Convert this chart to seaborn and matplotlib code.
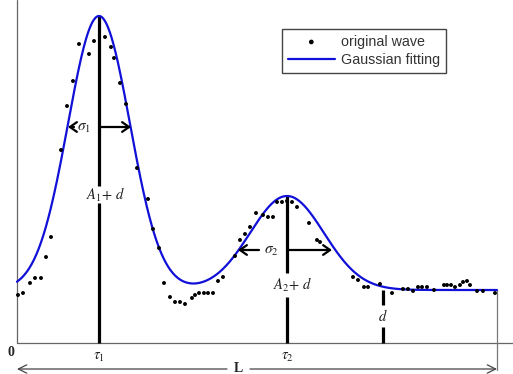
import numpy as np
import pandas as pd
import matplotlib
matplotlib.use("Agg")
import matplotlib.pyplot as plt
import seaborn as sns

# ---- data (x: 0..L, y: amplitude above the time axis) ----
wave_x = [1, 6, 13, 18, 24, 29, 34, 44, 50, 56, 62, 72, 77, 88, 94, 97, 103, 109,
          120, 131, 136, 142, 147, 153, 158, 163, 168, 175, 178, 182, 187, 191, 196,
          201, 206, 218, 223, 228, 233, 239, 246, 251, 256, 260, 265, 270, 275, 280,
          292, 300, 303, 336, 341, 347, 351, 363, 375, 386, 391, 396, 401, 405, 410,
          417, 427, 430, 434, 438, 443, 446, 450, 453, 460, 466, 478]
wave_y = [48, 50, 60, 65, 65, 86, 106, 193, 237, 262, 299, 289, 302, 306, 296, 285,
          260, 239, 175, 144, 114, 95, 60, 46, 41, 41, 39, 45, 48, 50, 50, 50, 50,
          62, 66, 87, 103, 109, 116, 130, 128, 126, 126, 141, 141, 142, 141, 136,
          120, 103, 101, 66, 63, 56, 56, 59, 50, 54, 54, 52, 56, 56, 56, 53, 58, 58,
          58, 56, 58, 61, 62, 58, 52, 52, 50]

# Gaussian fitting parameters
A1, tau1, sigma1 = 274, 82, 31
A2, tau2, sigma2 = 94, 270, 37
d = 53
L = 480

fit_x = np.linspace(0, L, 600)
fit_y = (A1 * np.exp(-(fit_x - tau1) ** 2 / (2 * sigma1 ** 2))
         + A2 * np.exp(-(fit_x - tau2) ** 2 / (2 * sigma2 ** 2)) + d)

sns.set_style("white")
plt.rcParams["mathtext.fontset"] = "stix"

fig = plt.figure(figsize=(5.13, 3.74), dpi=100)
ax = fig.add_axes([0, 0, 1, 1])
ax.set_xlim(-17, 496)
ax.set_ylim(-31, 343)
ax.axis("off")

waves = pd.DataFrame({"x": wave_x, "y": wave_y})
fits = pd.DataFrame({"x": fit_x, "y": fit_y})

# axes lines
ax.plot([0, 0], [0, 343], color="#666666", lw=0.9, zorder=1)
ax.plot([0, 496], [0, 0], color="#666666", lw=0.9, zorder=1)
ax.plot([L, L], [d, -27], color="#777777", lw=0.9, zorder=1)

# vertical black markers
blk = dict(color="black", lw=2.3, solid_capstyle="butt", zorder=2)
pk1 = A1 + d
pk2 = fit_y[np.argmin(np.abs(fit_x - tau2))]
ax.plot([tau1, tau1], [pk1, 157], **blk)
ax.plot([tau1, tau1], [140, 0], **blk)
ax.plot([tau2, tau2], [pk2, 70], **blk)
ax.plot([tau2, tau2], [46, 0], **blk)
ax.plot([366, 366], [d, 38], **blk)
ax.plot([366, 366], [16, 0], **blk)

sns.lineplot(data=fits, x="x", y="y", color="#1010d8", lw=1.6, ax=ax, zorder=3,
             label="Gaussian fitting", legend=False)
sns.scatterplot(data=waves, x="x", y="y", color="black", s=8, marker="o",
                edgecolor="none", ax=ax, zorder=4, label="original wave", legend=False)

# sigma arrows
arr = dict(arrowstyle="->,head_length=0.5,head_width=0.35", color="black", lw=1.6,
           shrinkA=0, shrinkB=0)
ax.annotate("", xy=(114, 216), xytext=(tau1, 216), arrowprops=arr, zorder=5)
ax.annotate("", xy=(51, 216), xytext=(57, 216), arrowprops=arr, zorder=5)
ax.text(67, 216, r"$\sigma_1$", fontsize=11, ha="center", va="center", color="#222222")
ax.annotate("", xy=(315, 93), xytext=(tau2, 93), arrowprops=arr, zorder=5)
ax.annotate("", xy=(221, 93), xytext=(242, 93), arrowprops=arr, zorder=5)
ax.text(254, 93, r"$\sigma_2$", fontsize=11, ha="center", va="center", color="#222222")

# labels
ax.text(89, 148, r"$A_1\!+\,d$", fontsize=10.5, ha="center", va="center", color="#222222")
ax.text(276, 58, r"$A_2\!+\,d$", fontsize=10.5, ha="center", va="center", color="#222222")
ax.text(366, 27, r"$d$", fontsize=10.5, ha="center", va="center", color="#222222")
ax.text(tau1, -14, r"$\tau_1$", fontsize=10.5, ha="center", va="center", color="#222222")
ax.text(tau2, -14, r"$\tau_2$", fontsize=10.5, ha="center", va="center", color="#222222")
ax.text(-6, -9, "0", fontsize=10, fontweight="bold", family="Liberation Serif",
        ha="center", va="center")

# L dimension arrow
la = dict(arrowstyle="->,head_length=0.6,head_width=0.3", color="#444444", lw=0.9,
          shrinkA=0, shrinkB=0)
ax.annotate("", xy=(0, -26), xytext=(210, -26), arrowprops=la)
ax.annotate("", xy=(L, -26), xytext=(233, -26), arrowprops=la)
ax.text(221, -25, "L", fontsize=10, fontweight="bold", family="Liberation Serif",
        ha="center", va="center")

h, l = ax.get_legend_handles_labels()
order = [l.index("original wave"), l.index("Gaussian fitting")]
leg = ax.legend([h[i] for i in order], [l[i] for i in order],
                loc="upper left", bbox_to_anchor=(282 / 513, 1 - 29 / 374),
                borderaxespad=0, frameon=True, fancybox=False, framealpha=1,
                edgecolor="#444444", handlelength=3.3, handletextpad=0.45,
                borderpad=0.4, labelspacing=0.3, markerscale=1.2,
                prop={"family": "Liberation Sans", "size": 10.3})
leg.get_frame().set_linewidth(1.0)
for t in leg.get_texts():
    t.set_color("#333333")

fig.savefig("out.png", dpi=100)
